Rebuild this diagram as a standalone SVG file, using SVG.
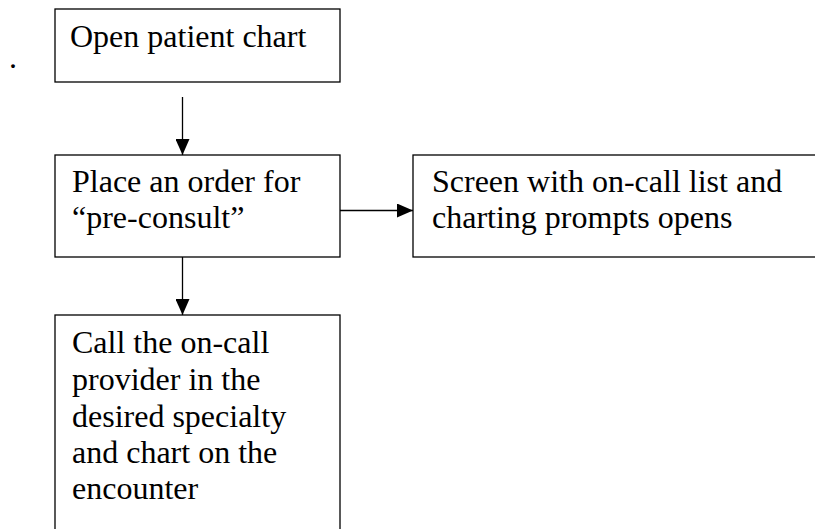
<svg xmlns="http://www.w3.org/2000/svg" width="815" height="529" viewBox="0 0 815 529">
<defs>
<style>
.box{fill:#fff;stroke:#000;stroke-width:1.3}
.t{font-family:"Liberation Serif","Times New Roman",serif;font-size:32px;fill:#000}
.c{stroke:#000;stroke-width:1.3;fill:none}
</style>
<marker id="ah" markerWidth="16" markerHeight="14" refX="16" refY="7" orient="auto" markerUnits="userSpaceOnUse">
<path d="M0,0 L16,7 L0,14 Z" fill="#000"/>
</marker>
</defs>
<rect width="815" height="529" fill="#fff"/>
<text class="t" x="9" y="68">.</text>
<g id="n1">
<rect class="box" x="55" y="9" width="285" height="73"/>
<text class="t" x="70" y="47">Open patient chart</text>
</g>
<g id="n2">
<rect class="box" x="55" y="155" width="285" height="102"/>
<text class="t" x="72" y="192">Place an order for</text>
<text class="t" x="72" y="228">“pre-consult”</text>
</g>
<g id="n3">
<rect class="box" x="413" y="155" width="420" height="102"/>
<text class="t" x="432" y="192">Screen with on-call list and</text>
<text class="t" x="432" y="228">charting prompts opens</text>
</g>
<g id="n4">
<rect class="box" x="55" y="315" width="285" height="230"/>
<text class="t" x="72" y="353">Call the on-call</text>
<text class="t" x="72" y="390">provider in the</text>
<text class="t" x="72" y="427">desired specialty</text>
<text class="t" x="72" y="463">and chart on the</text>
<text class="t" x="72" y="499">encounter</text>
</g>
<g id="connectors">
<line class="c" x1="182.5" y1="97" x2="182.5" y2="155" marker-end="url(#ah)"/>
<line class="c" x1="340" y1="210.5" x2="413" y2="210.5" marker-end="url(#ah)"/>
<line class="c" x1="182.5" y1="257" x2="182.5" y2="315" marker-end="url(#ah)"/>
</g>
</svg>
